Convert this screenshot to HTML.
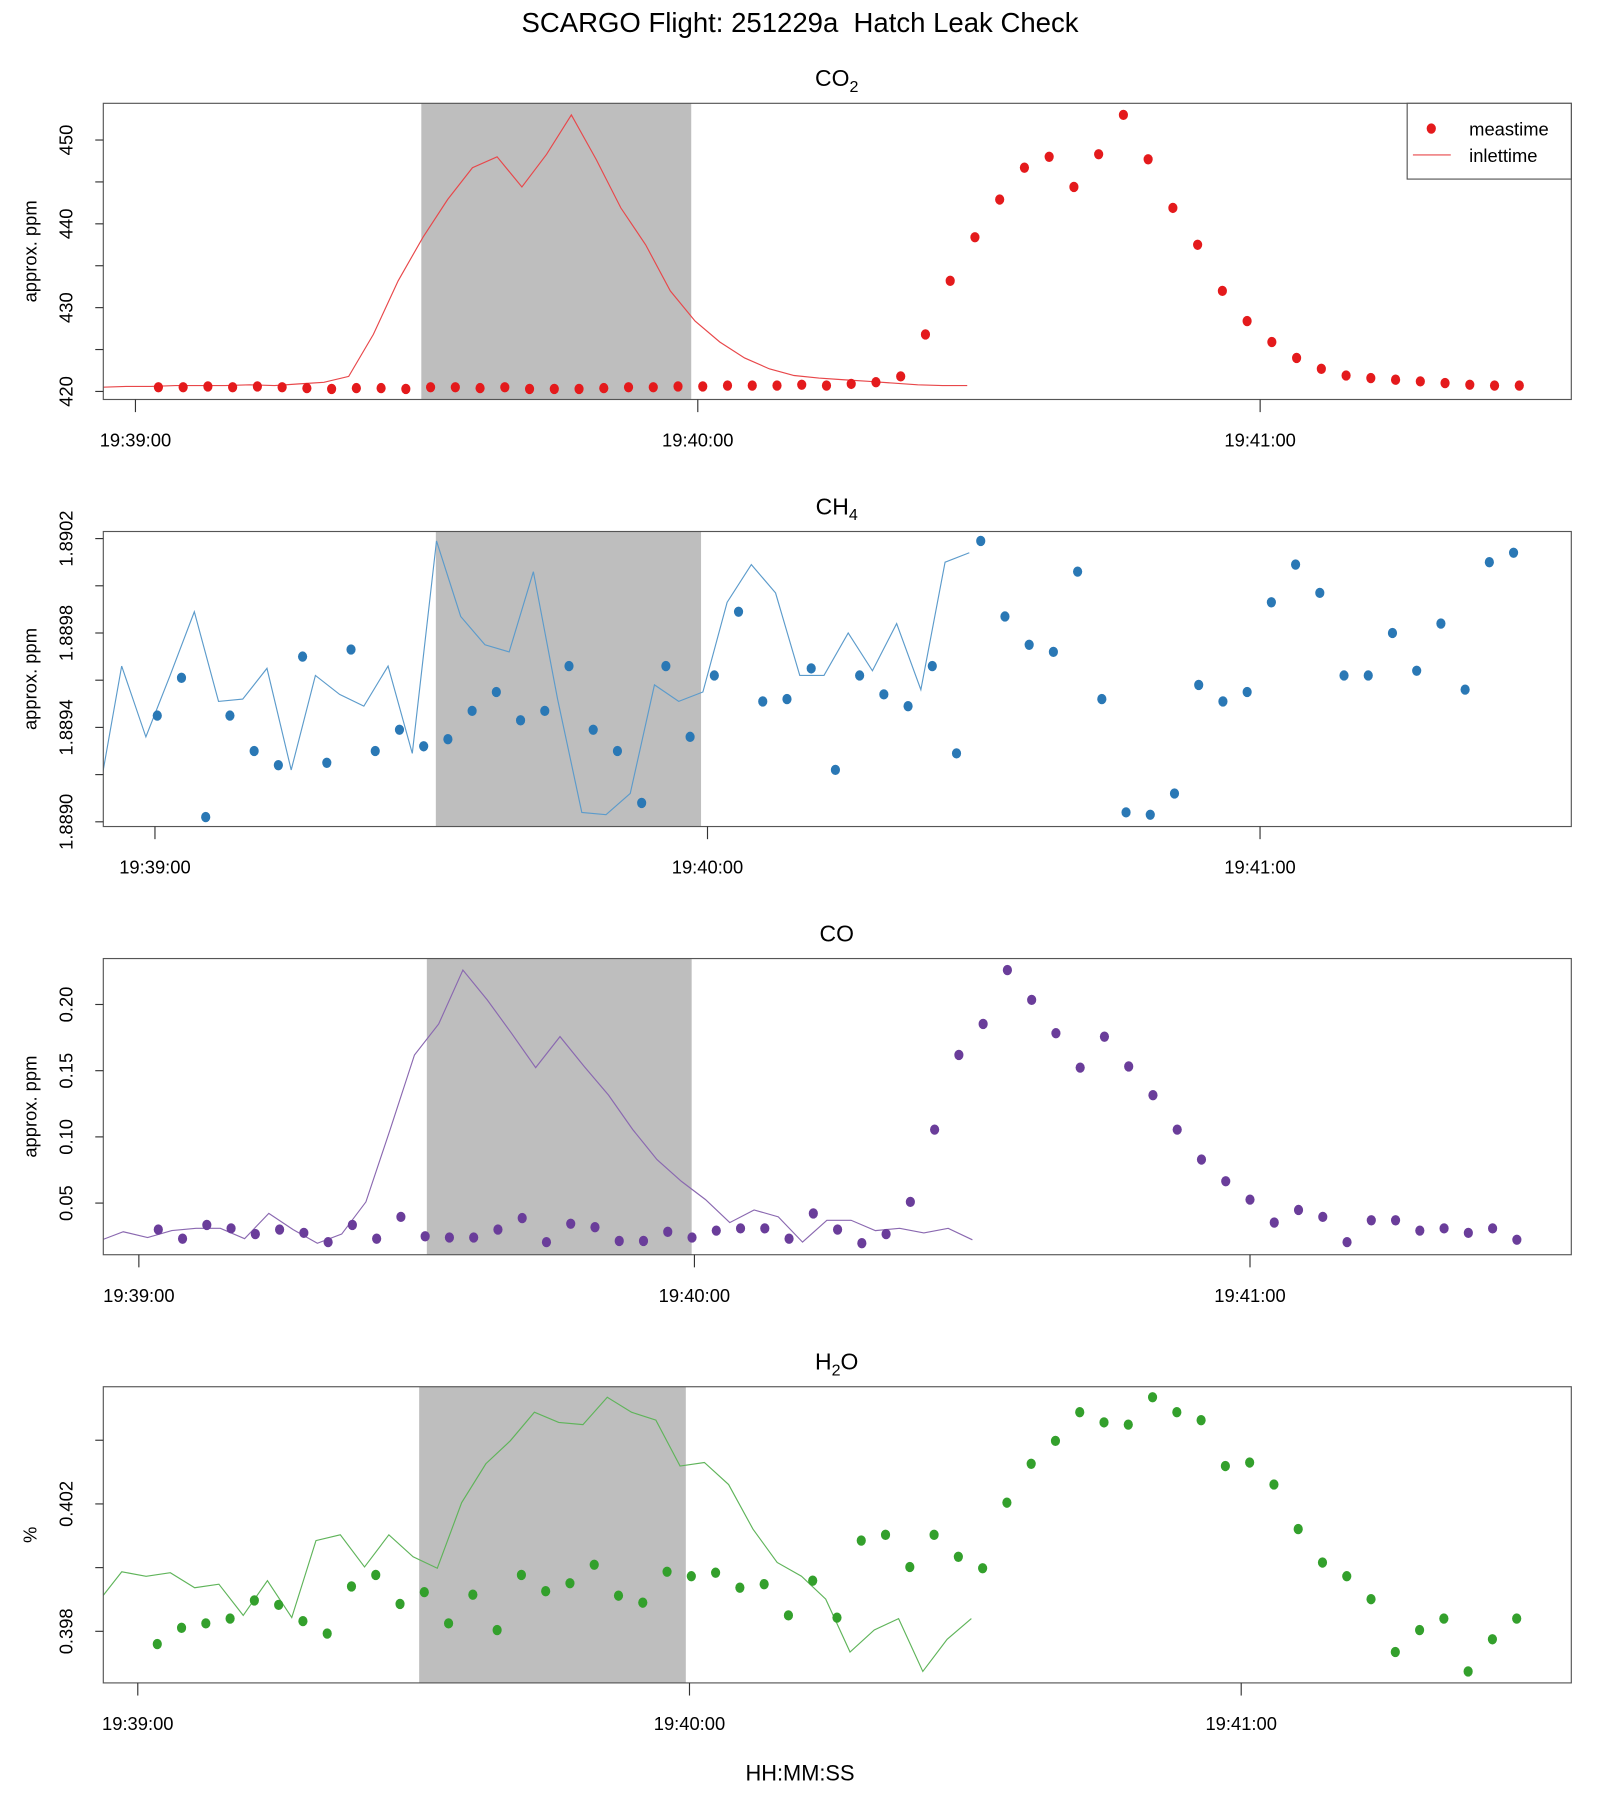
<!DOCTYPE html>
<html><head><meta charset="utf-8"><title>SCARGO Flight 251229a Hatch Leak Check</title>
<style>html,body{margin:0;padding:0;background:#fff}svg{display:block;font-family:"Liberation Sans",Arial,sans-serif}</style>
</head><body>
<svg id="chart" xmlns="http://www.w3.org/2000/svg" width="1600" height="1800" viewBox="0 0 1394 1568" preserveAspectRatio="none">
<text x="697" y="28" font-size="24" text-anchor="middle" xml:space="preserve">SCARGO Flight: 251229a  Hatch Leak Check</text>
<text x="697" y="1551" font-size="19" text-anchor="middle">HH:MM:SS</text>
</svg>
<script>
// ---- data ----
const tickTimes = [0, 60, 120];
const tickLabels = ["19:39:00", "19:40:00", "19:41:00"];
const co2Values = [420.5,420.5,420.6,420.5,420.6,420.5,420.4,420.3,420.4,420.4,420.3,420.5,420.5,420.4,420.5,420.3,420.3,420.3,420.4,420.5,420.5,420.6,420.6,420.7,420.7,420.7,420.8,420.7,420.9,421.1,421.8,426.8,433.2,438.4,442.9,446.7,448.0,444.4,448.3,453.0,447.7,441.9,437.5,432.0,428.4,425.9,424.0,422.7,421.9,421.6,421.4,421.2,421.0,420.8,420.7,420.7];
const ch4Values = [1.88945,1.88961,1.88902,1.88945,1.88930,1.88924,1.88970,1.88925,1.88973,1.88930,1.88939,1.88932,1.88935,1.88947,1.88955,1.88943,1.88947,1.88966,1.88939,1.88930,1.88908,1.88966,1.88936,1.88962,1.88989,1.88951,1.88952,1.88965,1.88922,1.88962,1.88954,1.88949,1.88966,1.88929,1.89019,1.88987,1.88975,1.88972,1.89006,1.88952,1.88904,1.88903,1.88912,1.88958,1.88951,1.88955,1.88993,1.89009,1.88997,1.88962,1.88962,1.88980,1.88964,1.88984,1.88956,1.89010,1.89014];
const coValues = [0.0300,0.0231,0.0335,0.0309,0.0266,0.0300,0.0275,0.0205,0.0335,0.0231,0.0396,0.0249,0.0240,0.0240,0.0300,0.0387,0.0205,0.0344,0.0318,0.0214,0.0214,0.0283,0.0240,0.0292,0.0309,0.0309,0.0231,0.0422,0.0300,0.0197,0.0266,0.0509,0.1055,0.1619,0.1853,0.2260,0.2035,0.1783,0.1523,0.1757,0.1532,0.1315,0.1055,0.0829,0.0665,0.0526,0.0353,0.0448,0.0396,0.0205,0.0370,0.0370,0.0292,0.0309,0.0275,0.0309,0.0223];
const h2oValues = [0.39760,0.39811,0.39825,0.39840,0.39897,0.39883,0.39832,0.39793,0.39941,0.39977,0.39886,0.39923,0.39825,0.39915,0.39804,0.39977,0.39926,0.39951,0.40009,0.39912,0.39890,0.39987,0.39973,0.39984,0.39937,0.39948,0.39850,0.39959,0.39843,0.40085,0.40103,0.40002,0.40103,0.40034,0.39998,0.40204,0.40326,0.40398,0.40488,0.40456,0.40449,0.40535,0.40488,0.40463,0.40319,0.40330,0.40261,0.40121,0.40016,0.39973,0.39901,0.39735,0.39804,0.39840,0.39674,0.39775,0.39840];
const shadeStart = [30.5, 30.5, 31.1, 30.6];
const shadeEnd = [59.3, 59.3, 59.7, 59.6];
const inletLag = [58.9, 59.1, 58.8, 59.3];
const firstSampleTime = [2.45, 0.25, 2.1, 2.12];
const sampleStep = [2.64, 2.63, 2.62, 2.64];
const co2Ticks = [420,425,430,435,440,445,450];
const co2TickLabels = ["420","","430","","440","","450"];
const ch4Ticks = [1.8890,1.8892,1.8894,1.8896,1.8898,1.8900,1.8902];
const ch4TickLabels = ["1.8890","","1.8894","","1.8898","","1.8902"];
const coTicks = [0.05,0.10,0.15,0.20];
const coTickLabels = ["0.05","0.10","0.15","0.20"];
const h2oTicks = [0.398,0.400,0.402,0.404];
const h2oTickLabels = ["0.398","","0.402",""];

const NS = "http://www.w3.org/2000/svg";
const svg = document.getElementById("chart");
function mk(tag, attrs, parent) {
  const e = document.createElementNS(NS, tag);
  for (const k in attrs) e.setAttribute(k, attrs[k]);
  (parent || svg).appendChild(e);
  return e;
}
const panels = [
  {key:"co2", title:"CO", sub:"2", ylab:"approx. ppm", vals:co2Values, ticks:co2Ticks, tl:co2TickLabels,
   top:90, bot:348, ymin:419.04, ymax:454.38, xmin:-3.43, xmax:153.2, pt:"#E41A1C", ln:"#E8474A", legend:true},
  {key:"ch4", title:"CH", sub:"4", ylab:"approx. ppm", vals:ch4Values, ticks:ch4Ticks, tl:ch4TickLabels,
   top:463, bot:720, ymin:1.88898, ymax:1.89023, xmin:-5.61, xmax:153.8, pt:"#2A78B5", ln:"#5C9BCB"},
  {key:"co", title:"CO", sub:"", ylab:"approx. ppm", vals:coValues, ticks:coTicks, tl:coTickLabels,
   top:835, bot:1093, ymin:0.0110, ymax:0.2347, xmin:-3.84, xmax:154.7, pt:"#6A3D9A", ln:"#8A68B0"},
  {key:"h2o", title:"H", sub:"2", tail:"O", ylab:"%", vals:h2oValues, ticks:h2oTicks, tl:h2oTickLabels,
   top:1208, bot:1466, ymin:0.39638, ymax:0.40568, xmin:-3.75, xmax:155.9, pt:"#33A02C", ln:"#5FB45A"}
];
const L = 90, R = 1369;
panels.forEach((p, pi) => {
  const g = mk("g", {});
  
  
  const xs = t => L + (t - p.xmin) / (p.xmax - p.xmin) * (R - L);
  const ys = v => p.bot - (v - p.ymin) / (p.ymax - p.ymin) * (p.bot - p.top);
  const cid = "clip" + pi;
  const cp = mk("clipPath", {id: cid}, g);
  mk("rect", {x: L, y: p.top, width: R - L, height: p.bot - p.top}, cp);
  const sh = mk("rect", {x: xs(shadeStart[pi]), y: p.top, width: xs(shadeEnd[pi]) - xs(shadeStart[pi]), height: p.bot - p.top, fill: "#BEBEBE"}, g);
  
  
  const pts = p.vals.map((v, i) => {
    const t = firstSampleTime[pi] + i * sampleStep[pi] - inletLag[pi];
    return xs(t).toFixed(1) + "," + ys(v).toFixed(1);
  }).join(" ");
  const line = mk("polyline", {points: pts, fill: "none", stroke: p.ln, "stroke-width": 1, "clip-path": "url(#" + cid + ")"}, g);
  
  
  p.vals.forEach((v, i) => {
    const t = firstSampleTime[pi] + i * sampleStep[pi];
    const c = mk("ellipse", {cx: xs(t), cy: ys(v), rx: 4, ry: 4.5, fill: p.pt}, g);
    
    
  });
  const box = mk("rect", {x: L, y: p.top, width: R - L, height: p.bot - p.top, fill: "none", stroke: "#555", "stroke-width": 1}, g);
  
  
  p.ticks.forEach((tv, i) => {
    const y = ys(tv);
    mk("line", {x1: L - 7, x2: L, y1: y, y2: y, stroke: "#333", "stroke-width": 1}, g);
    if (p.tl[i]) {
      const t = mk("text", {x: 63, y: y, "font-size": 16, "text-anchor": "middle", transform: "rotate(-90 63 " + y + ")"}, g);
      t.textContent = p.tl[i];
      
      
    }
  });
  tickTimes.forEach((tt, i) => {
    const x = xs(tt);
    mk("line", {x1: x, x2: x, y1: p.bot, y2: p.bot + 11, stroke: "#333", "stroke-width": 1}, g);
    const t = mk("text", {x: x, y: p.bot + 41, "font-size": 16, "text-anchor": "middle"}, g);
    t.textContent = tickLabels[i];
    
    
  });
  const yc = (p.top + p.bot) / 2;
  const yt = mk("text", {x: 32, y: yc, "font-size": 16, "text-anchor": "middle", transform: "rotate(-90 32 " + yc + ")"}, g);
  yt.textContent = p.ylab;
  
  
  const tt = mk("text", {x: 729, y: p.top - 15, "font-size": 20, "text-anchor": "middle"}, g);
  
  
  tt.appendChild(document.createTextNode(p.title));
  if (p.sub) {
    const s = mk("tspan", {"font-size": 14, dy: 5}, tt);
    s.textContent = p.sub;
  }
  if (p.tail) {
    const s2 = mk("tspan", {dy: -5}, tt);
    s2.textContent = p.tail;
  }
  if (p.legend) {
    const lg = mk("g", {}, g);
    
    
    mk("rect", {x: 1226, y: 90, width: 143, height: 66, fill: "#fff", stroke: "#555", "stroke-width": 1}, lg);
    mk("ellipse", {cx: 1247, cy: 112, rx: 4, ry: 4.5, fill: p.pt}, lg);
    mk("line", {x1: 1231, x2: 1264, y1: 135, y2: 135, stroke: p.ln, "stroke-width": 1}, lg);
    const t1 = mk("text", {x: 1280, y: 118, "font-size": 16}, lg);
    t1.textContent = "meastime";
    
    
    const t2 = mk("text", {x: 1280, y: 141, "font-size": 16}, lg);
    t2.textContent = "inlettime";
    
    
  }
});
</script>
</body></html>
